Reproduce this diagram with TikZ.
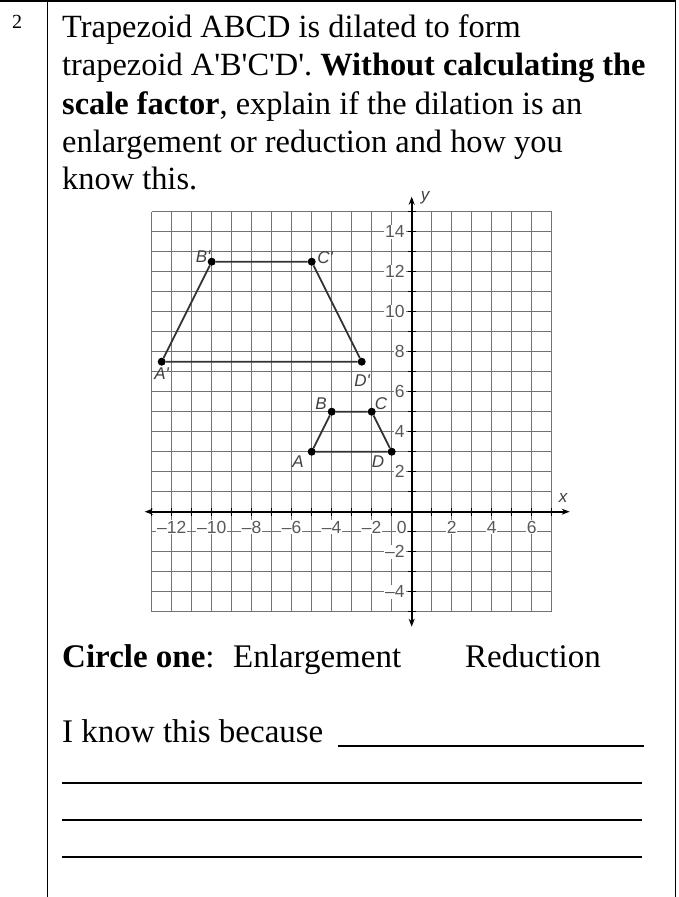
\documentclass[tikz,border=0pt]{standalone}
\usepackage{fontspec}
\setmainfont{Liberation Serif}
\setsansfont{Liberation Sans}
\usepackage{tikz}
\usepackage{xcolor}
\usetikzlibrary{arrows.meta}

\tikzset{
	bodytext/.style={anchor=base west, inner sep=0pt, font=\fontsize{33}{40}\selectfont},
	titletext/.style={bodytext, font=\fontsize{32.4}{40}\selectfont},
	ticklabel/.style={font=\sffamily\fontsize{17.5}{17.5}\selectfont, text=black!65, fill=white, inner sep=0.8pt},
	ptlabel/.style={font=\sffamily\itshape\fontsize{17}{17}\selectfont, text=black!75, inner sep=0pt},
	vertexdot/.style={circle, fill=black, inner sep=0pt, minimum size=8pt},
	answerline/.style={line width=2pt}
}

\begin{document}
\begin{tikzpicture}[x=1pt, y=-1pt]
\useasboundingbox (0,0) rectangle (679,897);

% table borders
\draw [line width=1.5pt] (0,1) -- (676,1);
\draw [line width=1.5pt] (47.5,0) -- (47.5,897);
\draw [line width=1.5pt] (675.5,0) -- (675.5,897);

\node [anchor=base west, inner sep=0pt, font=\fontsize{20}{20}\selectfont] (num) at (12,28) {2};

\node [titletext] (q1) at (62,37) {Trapezoid ABCD is dilated to form};
\node [titletext] (q2) at (62,75) {trapezoid A\textquotesingle B\textquotesingle C\textquotesingle D\textquotesingle. \textbf{Without calculating the}};
\node [titletext] (q3) at (62,114) {\textbf{scale factor}, explain if the dilation is an};
\node [titletext] (q4) at (62,152) {enlargement or reduction and how you};
\node [titletext] (q5) at (62,189) {know this.};

% coordinate plane, 1 unit = 20pt
\begin{scope}[shift={(411.7,511.7)}, x=20pt, y=20pt]
	\draw [black!55, line width=1.5pt] (-13,-5) grid[step=1] (7,15);

	\draw [line width=1.6pt, {Stealth[length=8pt,width=6pt]}-{Stealth[length=8pt,width=6pt]}] (-13.35,0) -- (7.9,0);
	\draw [line width=1.6pt, {Stealth[length=8pt,width=6pt]}-{Stealth[length=8pt,width=6pt]}] (0,-5.75) -- (0,15.75);
	% ticks
	\draw [line width=1.3pt] (-13,-0.2) grid[step=1] (7,0.2);
	\draw [line width=1.3pt] (-0.2,-5) grid[step=1] (0.2,15);

	\node [ptlabel] (xlab) at (7.57,0.69) {x};
	\node [ptlabel] (ylab) at (0.67,15.68) {y};

	\node [ticklabel] (xm12) at (-12,-0.78) {\textendash12};
	\node [ticklabel] (xm10) at (-10,-0.78) {\textendash10};
	\node [ticklabel] (xm8) at (-8,-0.78) {\textendash8};
	\node [ticklabel] (xm6) at (-6,-0.78) {\textendash6};
	\node [ticklabel] (xm4) at (-4,-0.78) {\textendash4};
	\node [ticklabel] (xm2) at (-2,-0.78) {\textendash2};
	\node [ticklabel] (xzero) at (-0.5,-0.78) {0};
	\node [ticklabel] (x2) at (2,-0.78) {2};
	\node [ticklabel] (x4) at (4,-0.78) {4};
	\node [ticklabel] (x6) at (6,-0.78) {6};

	\node [ticklabel, anchor=east] (y14) at (-0.3,14) {14};
	\node [ticklabel, anchor=east] (y12) at (-0.3,12) {12};
	\node [ticklabel, anchor=east] (y10) at (-0.3,10) {10};
	\node [ticklabel, anchor=east] (y8) at (-0.3,8) {8};
	\node [ticklabel, anchor=east] (y6) at (-0.3,6) {6};
	\node [ticklabel, anchor=east] (y4) at (-0.3,4) {4};
	\node [ticklabel, anchor=east] (y2) at (-0.3,2) {2};
	\node [ticklabel, anchor=east] (ym2) at (-0.3,-2) {\textendash2};
	\node [ticklabel, anchor=east] (ym4) at (-0.3,-4) {\textendash4};

	% image A'B'C'D'
	\node [vertexdot] (Ap) at (-12.5,7.5) {};
	\node [vertexdot] (Bp) at (-10,12.5) {};
	\node [vertexdot] (Cp) at (-5,12.5) {};
	\node [vertexdot] (Dp) at (-2.5,7.5) {};
	\draw [black!80, line width=1.8pt] (Ap) -- (Bp) -- (Cp) -- (Dp) -- (Ap);
	\node [ptlabel] (Aplab) at (-12.5,6.9) {A\textquotesingle};
	\node [ptlabel] (Bplab) at (-10.43,12.73) {B\textquotesingle};
	\node [ptlabel] (Cplab) at (-4.33,12.69) {C\textquotesingle};
	\node [ptlabel] (Dplab) at (-2.48,6.54) {D\textquotesingle};

	% preimage ABCD
	\node [vertexdot] (A) at (-5,3) {};
	\node [vertexdot] (B) at (-4,5) {};
	\node [vertexdot] (C) at (-2,5) {};
	\node [vertexdot] (D) at (-1,3) {};
	\draw [black!80, line width=1.8pt] (A) -- (B) -- (C) -- (D) -- (A);
	\node [ptlabel] (Alab) at (-5.68,2.49) {A};
	\node [ptlabel] (Blab) at (-4.53,5.39) {B};
	\node [ptlabel] (Clab) at (-1.53,5.39) {C};
	\node [ptlabel] (Dlab) at (-1.68,2.49) {D};
\end{scope}

\node [bodytext] (circ) at (62,667) {\textbf{Circle one}:};
\node [bodytext] (enl) at (233,667) {Enlargement};
\node [bodytext] (red) at (465,667) {Reduction};

\node [bodytext] (know) at (62,742) {I know this because};
\draw [answerline] (338,746) -- (644,746);
\draw [answerline] (62,783) -- (642,783);
\draw [answerline] (62,820) -- (642,820);
\draw [answerline] (62,857) -- (642,857);

\end{tikzpicture}
\end{document}
